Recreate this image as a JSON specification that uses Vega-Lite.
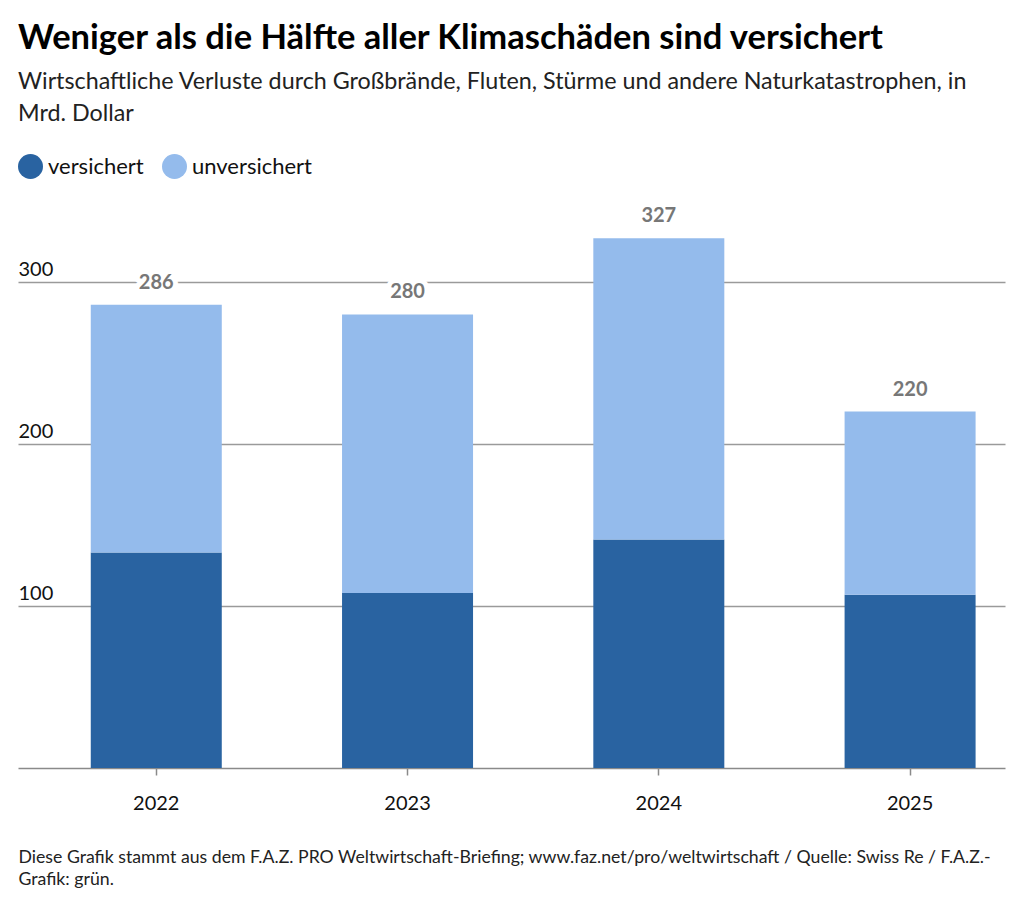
{
  "$schema": "https://vega.github.io/schema/vega-lite/v6.json",
  "width": 987,
  "height": 567,
  "padding": {"left": 18, "top": 21, "right": 19, "bottom": 10},
  "background": "white",
  "config": {"font": "Lato", "view": {"stroke": null}},
  "title": {
    "text": "Weniger als die Hälfte aller Klimaschäden sind versichert",
    "subtitle": ["Wirtschaftliche Verluste durch Großbrände, Fluten, Stürme und andere Naturkatastrophen, in", "Mrd. Dollar"],
    "anchor": "start",
    "frame": "group",
    "fontSize": 34.5,
    "fontWeight": "bold",
    "color": "#000000",
    "subtitleFontSize": 23.3,
    "subtitleColor": "#222222",
    "subtitleLineHeight": 32,
    "subtitlePadding": 14,
    "offset": 28
  },
  "data": {
    "values": [
      {"year": "2022", "typ": "versichert", "value": 133},
      {"year": "2022", "typ": "unversichert", "value": 153},
      {"year": "2023", "typ": "versichert", "value": 108},
      {"year": "2023", "typ": "unversichert", "value": 172},
      {"year": "2024", "typ": "versichert", "value": 141},
      {"year": "2024", "typ": "unversichert", "value": 186},
      {"year": "2025", "typ": "versichert", "value": 107},
      {"year": "2025", "typ": "unversichert", "value": 113}
    ]
  },
  "layer": [
    {
      "mark": {"type": "bar", "width": 131},
      "encoding": {
        "x": {
          "field": "year",
          "type": "ordinal",
          "scale": {"paddingInner": 0.479, "paddingOuter": 0.2035, "align": 0.712},
          "axis": {
            "labelAngle": 0,
            "labelFontSize": 20,
            "labelColor": "#111111",
            "labelPadding": 18,
            "domainColor": "#8a8a8a",
            "domainWidth": 1.5,
            "tickColor": "#8a8a8a",
            "tickWidth": 1.5,
            "tickSize": 7,
            "title": ["Diese Grafik stammt aus dem F.A.Z. PRO Weltwirtschaft-Briefing; www.faz.net/pro/weltwirtschaft / Quelle: Swiss Re  / F.A.Z.-", "Grafik: grün."],
            "titleFontSize": 17.7,
            "titleFontWeight": "normal",
            "titleColor": "#222222",
            "titleAlign": "left",
            "titleAnchor": "start",
            "titleBaseline": "alphabetic",
            "titleLineHeight": 22,
            "titleX": 0,
            "titleY": 94
          }
        },
        "y": {
          "field": "value",
          "type": "quantitative",
          "stack": "zero",
          "scale": {"domain": [0, 350], "nice": false},
          "axis": {
            "values": [100, 200, 300],
            "grid": true,
            "gridColor": "#9a9a9a",
            "gridWidth": 1.5,
            "domain": false,
            "ticks": false,
            "tickSize": 0,
            "labelAlign": "left",
            "labelPadding": 0,
            "labelBaseline": "alphabetic",
            "labelOffset": -7,
            "labelFontSize": 20,
            "labelColor": "#111111",
            "title": null
          }
        },
        "color": {
          "field": "typ",
          "type": "nominal",
          "sort": ["versichert", "unversichert"],
          "scale": {"domain": ["versichert", "unversichert"], "range": ["#2963a1", "#94bbec"]},
          "legend": {
            "orient": "top",
            "direction": "horizontal",
            "title": null,
            "symbolType": "circle",
            "symbolSize": 625,
            "symbolStrokeWidth": 0,
            "symbolOpacity": 1,
            "labelFontSize": 22,
            "labelColor": "#111111",
            "labelOffset": 5,
            "columnPadding": 18,
            "offset": 22
          }
        }
      }
    },
    {
      "transform": [{"aggregate": [{"op": "sum", "field": "value", "as": "total"}], "groupby": ["year"]}],
      "mark": {"type": "text", "baseline": "alphabetic", "dy": -16, "fontSize": 20, "fontWeight": "bold", "fill": "white", "stroke": "white", "strokeWidth": 10, "strokeJoin": "round"},
      "encoding": {
        "x": {"field": "year", "type": "ordinal"},
        "y": {"field": "total", "type": "quantitative"},
        "text": {"field": "total", "type": "quantitative"}
      }
    },
    {
      "transform": [{"aggregate": [{"op": "sum", "field": "value", "as": "total"}], "groupby": ["year"]}],
      "mark": {"type": "text", "baseline": "alphabetic", "dy": -16, "fontSize": 20, "fontWeight": "bold", "color": "#777777"},
      "encoding": {
        "x": {"field": "year", "type": "ordinal"},
        "y": {"field": "total", "type": "quantitative"},
        "text": {"field": "total", "type": "quantitative"}
      }
    }
  ]
}
